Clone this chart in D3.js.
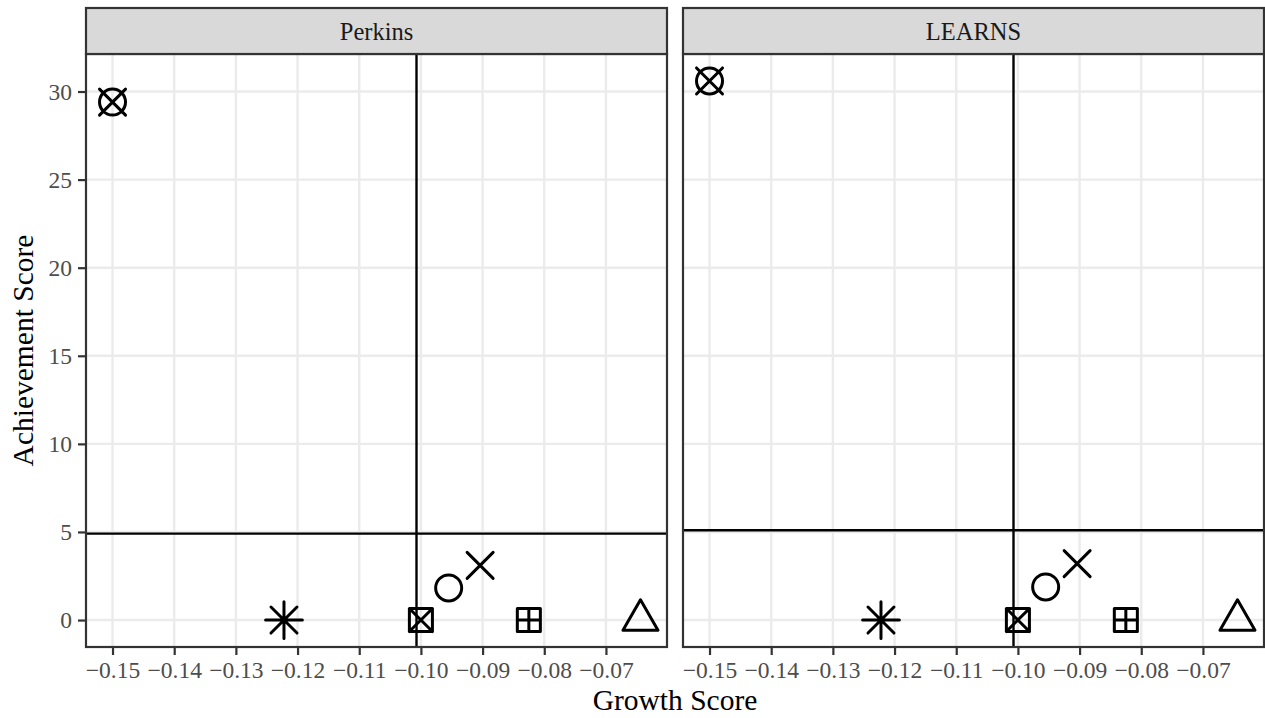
<!DOCTYPE html>
<html>
<head>
<meta charset="utf-8">
<script src="https://cdn.jsdelivr.net/npm/d3@7"></script>
<style>
  body { margin: 0; background: #fff; }
  svg text { font-family: "Liberation Serif", "DejaVu Serif", serif; }
</style>
</head>
<body>
<div id="chart"></div>
<script>
// data
var panels = ["Perkins", "LEARNS"];
var shapes = ["circleX", "asterisk", "squareX", "circle", "cross", "squarePlus", "triangle"];
var growth = [-0.1500, -0.1222, -0.1000, -0.0955, -0.0904, -0.0825, -0.0644];
var perkinsAch = [29.4, 0, 0, 1.82, 3.1, 0, 0];
var learnsAch = [30.6, 0, 0, 1.88, 3.2, 0, 0];
var xTicks = [-0.15, -0.14, -0.13, -0.12, -0.11, -0.10, -0.09, -0.08, -0.07];
var yTicks = [0, 5, 10, 15, 20, 25, 30];

var achByPanel = { "Perkins": perkinsAch, "LEARNS": learnsAch };

var W = 1265, H = 718;
var panelLeft = [86, 683], panelW = 581;
var stripTop = 8, panelTop = 54, panelBottom = 647;

var svg = d3.select("#chart").append("svg")
    .attr("width", W).attr("height", H);

var x = d3.scaleLinear().domain([-0.1543, -0.0601]).range([0, panelW]);
var y = d3.scaleLinear().domain([-1.53, 32.13]).range([panelBottom - panelTop, 0]);

// marker shapes like R's pch symbols
var R = 13;
function shapePath(type) {
  var p = d3.path();
  var s = R * 0.886;
  function circ() { p.moveTo(R, 0); p.arc(0, 0, R, 0, 2 * Math.PI); }
  function sq() { p.rect(-s, -s, 2 * s, 2 * s); }
  function xx(a) { p.moveTo(-a, -a); p.lineTo(a, a); p.moveTo(-a, a); p.lineTo(a, -a); }
  function plus(a) { p.moveTo(-a, 0); p.lineTo(a, 0); p.moveTo(0, -a); p.lineTo(0, a); }
  if (type == "circle") circ();
  if (type == "circleX") { circ(); xx(R); }
  if (type == "squareX") { sq(); xx(s); }
  if (type == "squarePlus") { sq(); plus(s); }
  if (type == "cross") xx(R);
  if (type == "asterisk") { xx(R); plus(R * Math.SQRT2); }
  if (type == "triangle") {
    var r = 1.5551 * R, xc = 1.3468 * R, yc = 0.7776 * R;
    p.moveTo(0, -r); p.lineTo(xc, yc); p.lineTo(-xc, yc); p.closePath();
  }
  return p.toString();
}

panels.forEach(function(name, pi) {
  var ach = achByPanel[name];
  var pts = shapes.map(function(s, i) { return { shape: s, gx: growth[i], ay: ach[i] }; });

  var g = svg.append("g")
      .attr("transform", "translate(" + panelLeft[pi] + "," + panelTop + ")");

  // grid
  g.selectAll(".vg").data(xTicks).enter().append("line")
      .attr("x1", function(d) { return x(d); }).attr("x2", function(d) { return x(d); })
      .attr("y1", 0).attr("y2", panelBottom - panelTop)
      .style("stroke", "#ebebeb").style("stroke-width", 2.4);
  g.selectAll(".hg").data(yTicks).enter().append("line")
      .attr("y1", function(d) { return y(d); }).attr("y2", function(d) { return y(d); })
      .attr("x1", 0).attr("x2", panelW)
      .style("stroke", "#ebebeb").style("stroke-width", 2.4);

  // mean lines
  var mx = d3.mean(growth), my = d3.mean(ach);
  g.append("line")
      .attr("x1", x(mx)).attr("x2", x(mx)).attr("y1", 0).attr("y2", panelBottom - panelTop)
      .style("stroke", "#000").style("stroke-width", 2.4);
  g.append("line")
      .attr("x1", 0).attr("x2", panelW).attr("y1", y(my)).attr("y2", y(my))
      .style("stroke", "#000").style("stroke-width", 2.4);

  // points
  g.selectAll(".pt").data(pts).enter().append("path")
      .attr("transform", function(d) { return "translate(" + x(d.gx) + "," + y(d.ay) + ")"; })
      .attr("d", function(d) { return shapePath(d.shape); })
      .style("fill", "none").style("stroke", "#000").style("stroke-width", 3)
      .style("stroke-linejoin", "round").style("stroke-linecap", "round");

  // border
  g.append("rect")
      .attr("x", 0).attr("y", 0).attr("width", panelW).attr("height", panelBottom - panelTop)
      .style("fill", "none").style("stroke", "#333").style("stroke-width", 2.2);

  // strip
  svg.append("rect")
      .attr("x", panelLeft[pi]).attr("y", stripTop)
      .attr("width", panelW).attr("height", panelTop - stripTop)
      .style("fill", "#d9d9d9").style("stroke", "#333").style("stroke-width", 2.2);
  svg.append("text")
      .attr("x", panelLeft[pi] + panelW / 2).attr("y", 40)
      .attr("text-anchor", "middle")
      .style("font-size", "24.5px").style("fill", "#1a1a1a")
      .text(name);

  // x axis
  var xAxis = d3.axisBottom(x).tickValues(xTicks).tickSize(7).tickPadding(6)
      .tickFormat(function(d) { return d3.format(".2f")(d).replace("-", "\u2013"); });
  var ax = svg.append("g")
      .attr("transform", "translate(" + panelLeft[pi] + "," + (panelBottom + 1) + ")")
      .call(xAxis);
  ax.select(".domain").remove();
  ax.selectAll("line").style("stroke", "#333").style("stroke-width", 2.2);
  ax.selectAll("text").style("font-size", "23.5px").style("fill", "#4d4d4d")
      .style("font-family", "Liberation Serif");
});

// y axis on the left panel only
var yAxis = d3.axisLeft(y).tickValues(yTicks).tickSize(7).tickPadding(6);
var ay = svg.append("g")
    .attr("transform", "translate(" + (panelLeft[0] - 1) + "," + panelTop + ")")
    .call(yAxis);
ay.select(".domain").remove();
ay.selectAll("line").style("stroke", "#333").style("stroke-width", 2.2);
ay.selectAll("text").style("font-size", "23.5px").style("fill", "#4d4d4d")
    .style("font-family", "Liberation Serif");

// axis titles
svg.append("text")
    .attr("x", (panelLeft[0] + panelLeft[1] + panelW) / 2).attr("y", 710)
    .attr("text-anchor", "middle")
    .style("font-size", "29.5px").style("fill", "#000")
    .text("Growth Score");
svg.append("text")
    .attr("transform", "translate(33," + ((panelTop + panelBottom) / 2) + ") rotate(-90)")
    .attr("text-anchor", "middle")
    .style("font-size", "29.5px").style("fill", "#000")
    .text("Achievement Score");
</script>
</body>
</html>
